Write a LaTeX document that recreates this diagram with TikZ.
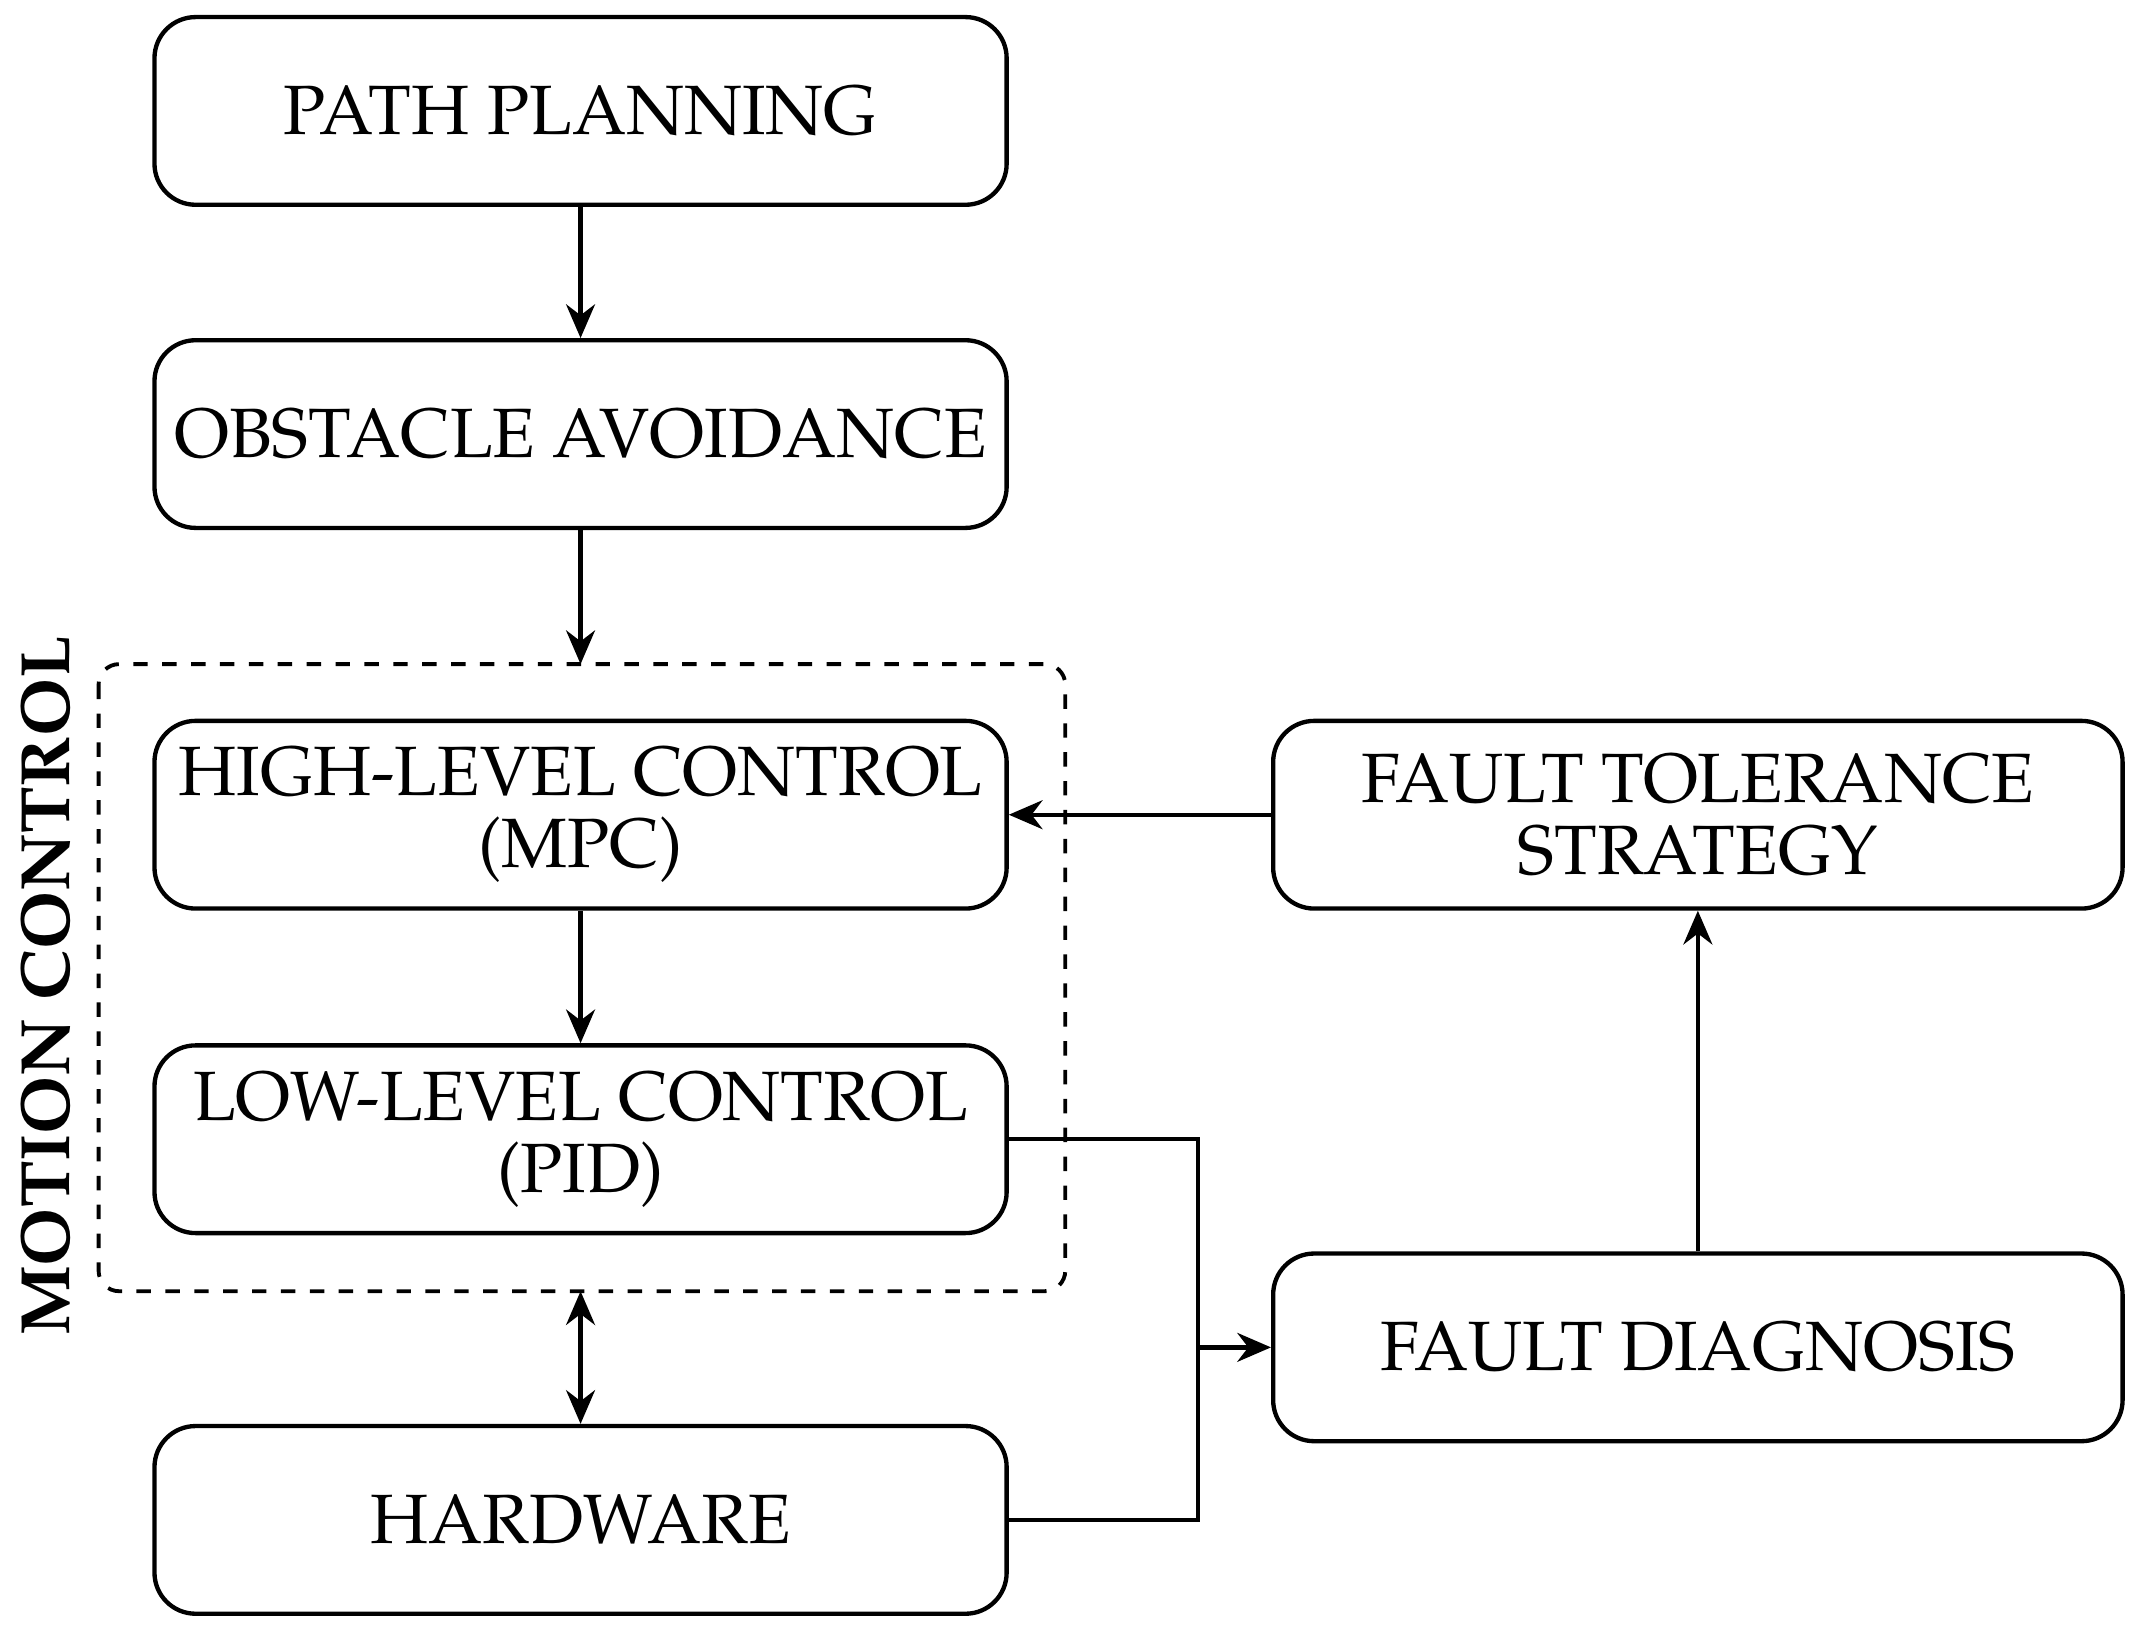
\documentclass[tikz,border=0pt]{standalone}
\usepackage[T1]{fontenc}
\usepackage{mathpazo}
\usetikzlibrary{arrows.meta}
\begin{document}
\begin{tikzpicture}[x=0.01cm,y=-0.01cm,
  box/.style={draw,line width=0.9pt,rounded corners=0.3cm,minimum width=6.22cm,minimum height=1.37cm,align=center,font=\fontsize{14.5}{15}\selectfont,inner sep=0pt},
  ar/.style={line width=0.9pt,-{Stealth[length=7pt,width=6pt]}}]
\useasboundingbox (0,0) rectangle (1568,1202);
\node[box] (pp) at (424,81) {PATH PLANNING};
\node[box] (oa) at (424,317) {OBSTACLE AVOIDANCE};
\node[box] (hl) at (424,595) {HIGH-LEVEL CONTROL\\(MPC)};
\node[box] (ll) at (424,832) {LOW-LEVEL CONTROL\\(PID)};
\node[box] (hw) at (424,1110) {HARDWARE};
\node[box,minimum width=6.2cm] (ft) at (1240,595) {FAULT TOLERANCE\\STRATEGY};
\node[box,minimum width=6.2cm] (fd) at (1240,984) {FAULT DIAGNOSIS};
\draw[dashed,line width=0.8pt,rounded corners=0.15cm] (72,485) rectangle (778,943);
\coordinate (dt) at (424,485);
\coordinate (db) at (424,943);
\node[rotate=90,font=\fontsize{14.5}{15}\selectfont\bfseries] (mc) at (33,720) {MOTION CONTROL};
\coordinate (j1) at (875,832);
\coordinate (j2) at (875,1110);
\coordinate (j3) at (875,984);
\draw[ar] (pp) -- (oa);
\draw[ar] (oa) -- (dt);
\draw[ar] (hl) -- (ll);
\draw[line width=0.9pt,{Stealth[length=7pt,width=6pt]}-{Stealth[length=7pt,width=6pt]}] (db) -- (hw);
\draw[ar] (ft.west) -- (hl.east);
\draw[ar] (fd) -- (ft);
\draw[line width=0.9pt] (ll.east) -- (j1) -- (j2) -- (hw.east);
\draw[ar] (j3) -- (fd.west);
\end{tikzpicture}
\end{document}
